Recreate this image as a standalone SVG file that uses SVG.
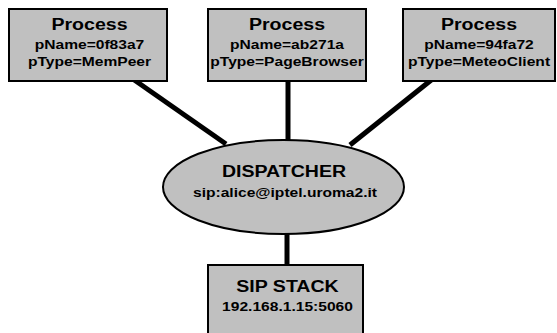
<svg xmlns="http://www.w3.org/2000/svg" width="557" height="333" viewBox="0 0 557 333">
<style>
.box{fill:#c0c0c0;stroke:#000;stroke-width:2}
.conn{stroke:#000;stroke-width:5;stroke-linecap:butt}
text{font-family:"Liberation Sans",Arial,sans-serif;font-weight:bold;fill:#000;text-anchor:middle}
.t{font-size:17px}
.s{font-size:13px}
</style>
<rect width="557" height="333" fill="#fff"/>
<g id="connectors">
<line class="conn" x1="120" y1="70" x2="226" y2="144"/>
<line class="conn" x1="288" y1="80" x2="288" y2="142"/>
<line class="conn" x1="440" y1="73" x2="350" y2="145"/>
<line class="conn" x1="287" y1="230" x2="287" y2="266"/>
</g>
<g id="process1">
<rect class="box" x="9" y="9" width="158" height="72"/>
<text class="t" transform="translate(89.5,30) scale(1.15,1)">Process</text>
<text class="s" transform="translate(89.5,49) scale(1.2,1)">pName=0f83a7</text>
<text class="s" transform="translate(89.5,66) scale(1.2,1)">pType=MemPeer</text>
</g>
<g id="process2">
<rect class="box" x="208" y="9" width="158" height="72"/>
<text class="t" transform="translate(287,30) scale(1.15,1)">Process</text>
<text class="s" transform="translate(287,49) scale(1.2,1)">pName=ab271a</text>
<text class="s" transform="translate(287,66) scale(1.2,1)">pType=PageBrowser</text>
</g>
<g id="process3">
<rect class="box" x="403" y="9" width="152" height="72"/>
<text class="t" transform="translate(479,30) scale(1.15,1)">Process</text>
<text class="s" transform="translate(479,49) scale(1.2,1)">pName=94fa72</text>
<text class="s" transform="translate(479,66) scale(1.2,1)">pType=MeteoClient</text>
</g>
<g id="dispatcher">
<ellipse class="box" cx="283.5" cy="187" rx="120.5" ry="47"/>
<text class="t" transform="translate(284,177) scale(1.15,1)">DISPATCHER</text>
<text class="s" transform="translate(285,197) scale(1.2,1)">sip:alice@iptel.uroma2.it</text>
</g>
<g id="sipstack">
<rect class="box" x="208" y="265" width="155" height="80"/>
<text class="t" transform="translate(287.5,292) scale(1.15,1)">SIP STACK</text>
<text class="s" transform="translate(287.5,311) scale(1.2,1)">192.168.1.15:5060</text>
</g>
</svg>
